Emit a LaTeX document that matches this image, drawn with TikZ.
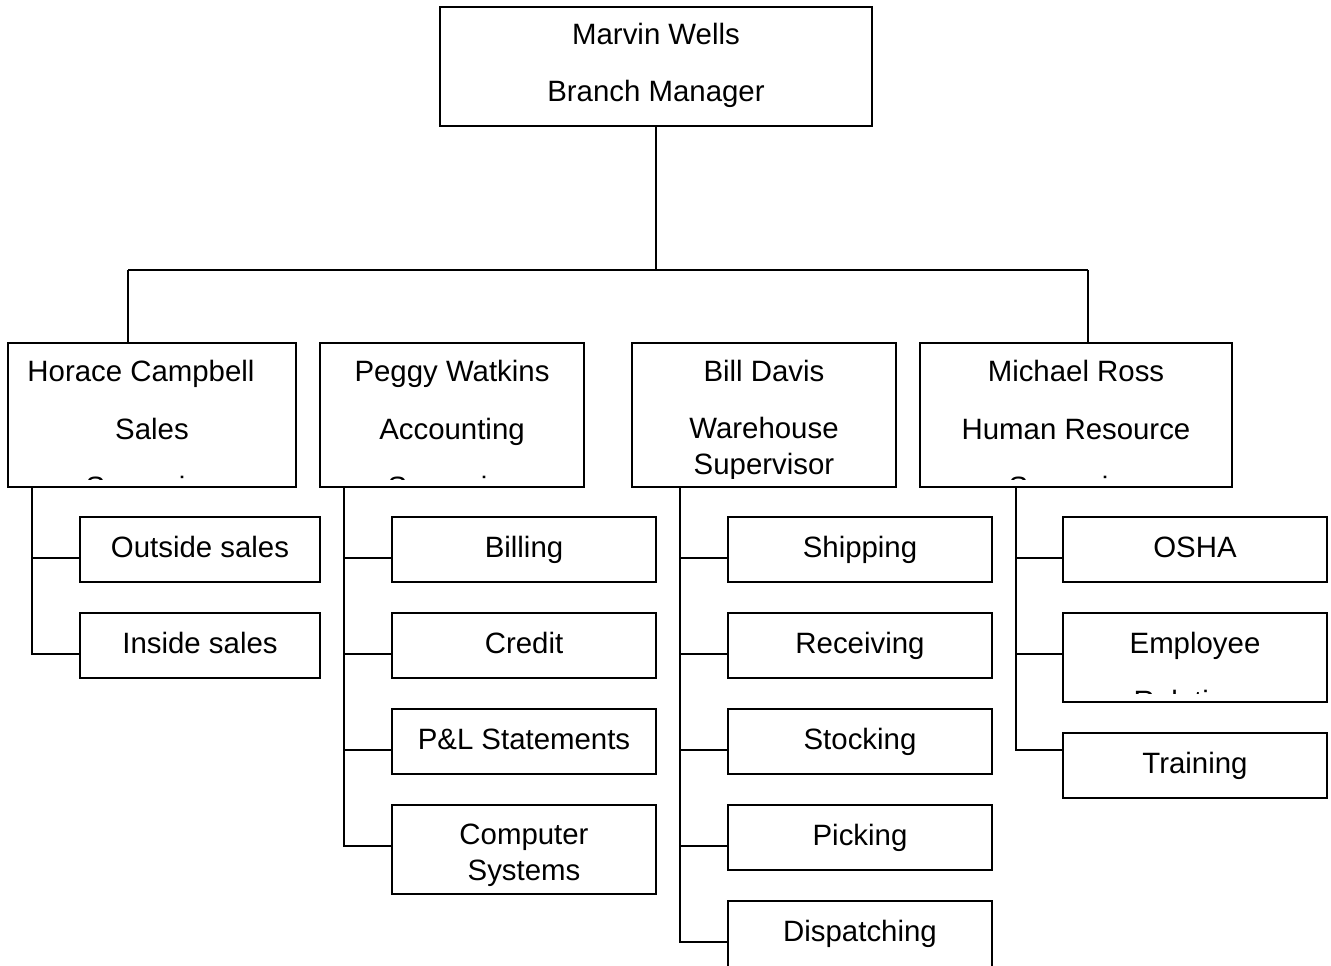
\documentclass[tikz,border=0pt]{standalone}
\usepackage{fontspec}
\setmainfont{Liberation Sans}
\begin{document}
\begin{tikzpicture}[x=1pt,y=-1pt,
  box/.style={draw, line width=1.8pt, inner sep=0pt, outer sep=0pt, anchor=north west},
  lbl/.style={anchor=base, inner sep=0pt, font=\fontsize{29.4}{34}\selectfont},
  link/.style={line width=1.8pt}]
\useasboundingbox (0,0) rectangle (1331,966);
\clip (0,0) rectangle (1331,966);

% box: name, left, top, width, height
\newcommand{\orgbox}[5]{\node[box, minimum width=#4pt, minimum height=#5pt] (#1) at (#2,#3) {};}

% ---- top ----
\orgbox{mw}{440}{7}{432}{119}
\node[lbl] (mw1) at (656,45) {Marvin Wells};
\node[lbl] (mw2) at (656,102) {Branch Manager};

% ---- department heads ----
\orgbox{hc}{8}{343}{288}{144}
\orgbox{pw}{320}{343}{264}{144}
\orgbox{bd}{632}{343}{264}{144}
\orgbox{mr}{920}{343}{312}{144}

\begin{scope}
  \clip (8,343) rectangle (296,479);
  \node[lbl] (hc1) at (141,381) {Horace Campbell};
  \node[lbl] (hc2) at (152,439) {Sales};
  \node[lbl] (hc3) at (156,497) {Supervisor};
\end{scope}
\begin{scope}
  \clip (320,343) rectangle (584,479);
  \node[lbl] (pw1) at (452,381) {Peggy Watkins};
  \node[lbl] (pw2) at (452,439) {Accounting};
  \node[lbl] (pw3) at (458,497) {Supervisor};
\end{scope}
\begin{scope}
  \clip (632,343) rectangle (896,478);
  \node[lbl] (bd1) at (764,381) {Bill Davis};
  \node[lbl] (bd2) at (764,438) {Warehouse};
  \node[lbl] (bd3) at (764,474) {Supervisor};
\end{scope}
\begin{scope}
  \clip (920,343) rectangle (1232,479);
  \node[lbl] (mr1) at (1076,381) {Michael Ross};
  \node[lbl] (mr2) at (1076,439) {Human Resource};
  \node[lbl] (mr3) at (1079,497) {Supervisor};
\end{scope}

% ---- sales ----
\orgbox{os}{80}{517}{240}{65}
\orgbox{is}{80}{613}{240}{65}
\node[lbl] (os1) at (200,557) {Outside sales};
\node[lbl] (is1) at (200,653) {Inside sales};

% ---- accounting ----
\orgbox{bi}{392}{517}{264}{65}
\orgbox{cr}{392}{613}{264}{65}
\orgbox{pl}{392}{709}{264}{65}
\orgbox{cs}{392}{805}{264}{89}
\node[lbl] (bi1) at (524,557) {Billing};
\node[lbl] (cr1) at (524,653) {Credit};
\node[lbl] (pl1) at (524,749) {P\&L Statements};
\node[lbl] (cs1) at (524,844) {Computer};
\node[lbl] (cs2) at (524,880) {Systems};

% ---- warehouse ----
\orgbox{sh}{728}{517}{264}{65}
\orgbox{rc}{728}{613}{264}{65}
\orgbox{st}{728}{709}{264}{65}
\orgbox{pk}{728}{805}{264}{65}
\orgbox{dp}{728}{901}{264}{89}
\node[lbl] (sh1) at (860,557) {Shipping};
\node[lbl] (rc1) at (860,653) {Receiving};
\node[lbl] (st1) at (860,749) {Stocking};
\node[lbl] (pk1) at (860,845) {Picking};
\node[lbl] (dp1) at (860,941) {Dispatching};

% ---- human resources ----
\orgbox{os2}{1063}{517}{264}{65}
\orgbox{er}{1063}{613}{264}{89}
\orgbox{tr}{1063}{733}{264}{65}
\node[lbl] (osha) at (1195,557) {OSHA};
\begin{scope}
  \clip (1063,613) rectangle (1327,693);
  \node[lbl] (er1) at (1195,653) {Employee};
  \node[lbl] (er2) at (1195,711) {Relations};
\end{scope}
\node[lbl] (tr1) at (1195,773) {Training};

% ---- connectors ----
\coordinate (busL) at (128,270);
\coordinate (busR) at (1088,270);
\draw[link] (mw.south) -- (mw.south |- busL);
\draw[link] (busL) -- (busR);
\draw[link] (busL) -- (busL |- hc.north);
\draw[link] (busR) -- (busR |- mr.north);

\coordinate (hcs) at (32,487);
\coordinate (pws) at (344,487);
\coordinate (bds) at (680,487);
\coordinate (mrs) at (1016,487);

\draw[link] (hcs) |- ([yshift=-41pt]os.north west);
\draw[link] (hcs) |- ([yshift=-41pt]is.north west);

\draw[link] (pws) |- ([yshift=-41pt]bi.north west);
\draw[link] (pws) |- ([yshift=-41pt]cr.north west);
\draw[link] (pws) |- ([yshift=-41pt]pl.north west);
\draw[link] (pws) |- ([yshift=-41pt]cs.north west);

\draw[link] (bds) |- ([yshift=-41pt]sh.north west);
\draw[link] (bds) |- ([yshift=-41pt]rc.north west);
\draw[link] (bds) |- ([yshift=-41pt]st.north west);
\draw[link] (bds) |- ([yshift=-41pt]pk.north west);
\draw[link] (bds) |- ([yshift=-41pt]dp.north west);

\draw[link] (mrs) |- ([yshift=-41pt]os2.north west);
\draw[link] (mrs) |- ([yshift=-41pt]er.north west);
\draw[link] (mrs) |- ([yshift=-17pt]tr.north west);
\end{tikzpicture}
\end{document}
